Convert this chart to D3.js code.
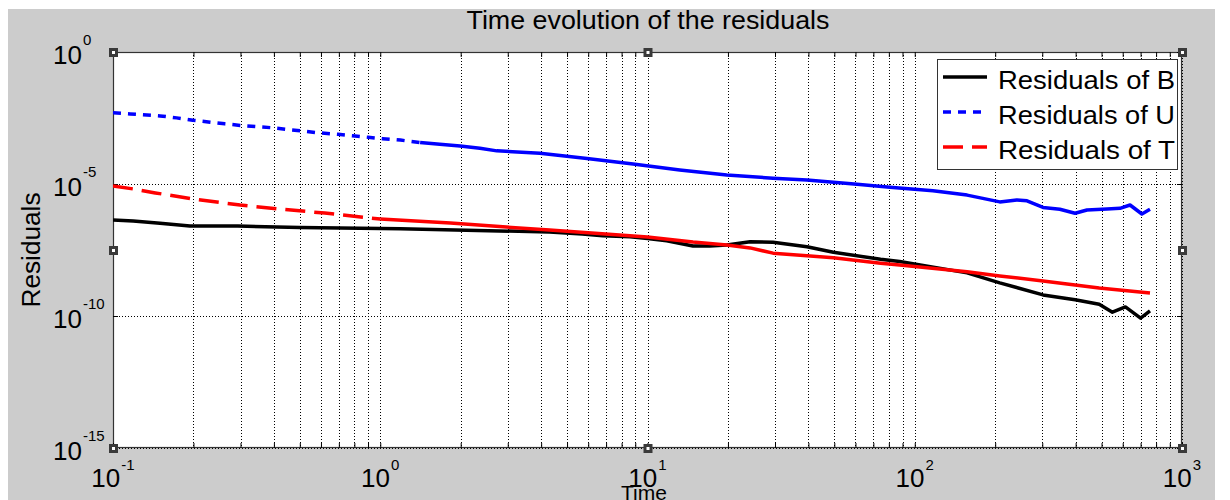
<!DOCTYPE html>
<html>
<head>
<meta charset="utf-8">
<script src="https://cdn.jsdelivr.net/npm/d3@7"></script>
<style>
  html, body { margin: 0; padding: 0; background: #ffffff; }
  svg { display: block; }
  text { font-family: "Liberation Sans", Arial, Helvetica, sans-serif; fill: #000; }
</style>
</head>
<body>
<svg id="chart" width="1230" height="500"></svg>
<script>
// ---------------- data ----------------
const titleText = "Time evolution of the residuals";
const xLabelText = "Time";
const yLabelText = "Residuals";

const xMajorExps = [-1, 0, 1, 2, 3];
const yMajorExps = [0, -5, -10, -15];

const seriesNames = ["Residuals of B", "Residuals of U", "Residuals of T"];

const timeB = [0.1, 0.119, 0.150, 0.194, 0.293, 0.50, 1.19, 4.3, 5.7, 6.8, 8.6, 10, 11.8, 14.8, 17.1, 19.8, 24.2, 29.5, 39.5, 49.6, 74.5, 87.8, 157, 208, 302, 398, 490, 549, 614, 700, 759];
const resB  = [4.3e-7, 4.0e-7, 3.25e-7, 2.57e-7, 2.57e-7, 2.25e-7, 2.0e-7, 1.52e-7, 1.28e-7, 1.1e-7, 1.0e-7, 8.7e-8, 7.1e-8, 4.5e-8, 4.5e-8, 4.9e-8, 6.5e-8, 6.2e-8, 4.2e-8, 2.6e-8, 1.4e-8, 1.15e-8, 4.3e-9, 1.8e-9, 6.3e-10, 4.1e-10, 2.8e-10, 1.4e-10, 2.2e-10, 8.3e-11, 1.55e-10];

const timeU = [0.1, 0.116, 0.150, 0.173, 0.199, 0.231, 0.262, 0.299, 0.346, 0.394, 0.459, 0.509, 0.585, 0.695, 0.805, 0.90, 1.02, 1.19, 1.41, 1.67, 1.99, 2.36, 2.73, 3.96, 5.94, 8.83, 13.2, 19.8, 29.5, 39.5, 60.8, 80.8, 117, 157, 208, 241, 263, 302, 349, 398, 441, 524, 586, 639, 708, 759];
const resU  = [5.0e-3, 4.5e-3, 3.8e-3, 3.2e-3, 2.6e-3, 2.2e-3, 1.9e-3, 1.66e-3, 1.48e-3, 1.35e-3, 1.14e-3, 1.02e-3, 8.7e-4, 7.6e-4, 6.6e-4, 5.9e-4, 5.2e-4, 4.6e-4, 3.7e-4, 3.2e-4, 2.75e-4, 2.25e-4, 1.8e-4, 1.45e-4, 9.3e-5, 5.7e-5, 3.4e-5, 2.2e-5, 1.65e-5, 1.42e-5, 9.8e-6, 7.5e-6, 5.6e-6, 3.8e-6, 2.1e-6, 2.5e-6, 2.3e-6, 1.3e-6, 1.1e-6, 7.8e-7, 1.04e-6, 1.12e-6, 1.2e-6, 1.6e-6, 7.3e-7, 1.1e-6];

const timeT = [0.1, 0.119, 0.144, 0.199, 0.299, 0.43, 0.62, 1.0, 1.83, 4.3, 10, 14.8, 19.8, 24.2, 29.5, 39.5, 49.6, 74.5, 87.8, 157, 208, 302, 398, 490, 759];
const resT  = [8.4e-6, 6.5e-6, 4.6e-6, 2.7e-6, 1.6e-6, 1.1e-6, 7.9e-7, 4.7e-7, 3.3e-7, 1.8e-7, 9.8e-8, 6.3e-8, 4.9e-8, 3.8e-8, 2.4e-8, 1.9e-8, 1.6e-8, 1.0e-8, 8.5e-9, 4.7e-9, 3.3e-9, 2.1e-9, 1.5e-9, 1.15e-9, 7.4e-10];

// ---------------- layout / style ----------------
const W = 1230, H = 500;
const plot = { left: 113, top: 52, right: 1182, bottom: 448 };
const series = [
  { name: seriesNames[0], t: timeB, r: resB, color: "#000000", dash: null,   denseFrom: null },
  { name: seriesNames[1], t: timeU, r: resU, color: "#0000ff", dash: "8,7",  denseFrom: 1.41 },
  { name: seriesNames[2], t: timeT, r: resT, color: "#ff0000", dash: "20,9", denseFrom: 1.0 }
];
const lineW = 3.5;

const svg = d3.select("#chart");

// figure background
svg.append("rect").attr("x", 0).attr("y", 0).attr("width", W).attr("height", H).attr("fill", "#ffffff");
svg.append("rect").attr("x", 8).attr("y", 9).attr("width", 1207).attr("height", H - 9).attr("fill", "#cccccc");

const x = d3.scaleLog().domain([0.1, 1000]).range([plot.left, plot.right]);
const y = d3.scaleLog().domain([1e-15, 1]).range([plot.bottom, plot.top]);

// axes area
svg.append("rect")
  .attr("x", plot.left).attr("y", plot.top)
  .attr("width", plot.right - plot.left).attr("height", plot.bottom - plot.top)
  .attr("fill", "#ffffff");

// x ticks: majors and minors (2..9 per decade)
const xAllTicks = [];
xMajorExps.forEach((e, i) => {
  const base = Math.pow(10, e);
  xAllTicks.push(base);
  if (i < xMajorExps.length - 1) for (let k = 2; k <= 9; k++) xAllTicks.push(k * base);
});
const yTicks = yMajorExps.map(e => Math.pow(10, e));

const grid = svg.append("g").attr("shape-rendering", "crispEdges");
grid.selectAll("line.vx").data(xAllTicks).enter().append("line")
  .attr("x1", d => Math.round(x(d)) + 0.5).attr("x2", d => Math.round(x(d)) + 0.5)
  .attr("y1", plot.top).attr("y2", plot.bottom)
  .attr("stroke", "#000").attr("stroke-width", 1).attr("stroke-dasharray", "1,2");
grid.selectAll("line.hy").data(yTicks).enter().append("line")
  .attr("y1", d => Math.round(y(d)) + 0.5).attr("y2", d => Math.round(y(d)) + 0.5)
  .attr("x1", plot.left).attr("x2", plot.right)
  .attr("stroke", "#000").attr("stroke-width", 1).attr("stroke-dasharray", "1,2");

// axis box
svg.append("rect")
  .attr("x", plot.left + 0.5).attr("y", plot.top + 0.5)
  .attr("width", plot.right - plot.left - 1).attr("height", plot.bottom - plot.top - 1)
  .attr("fill", "none").attr("stroke", "#333").attr("stroke-width", 1.2);

// tick marks (inward), using d3 axes
const tickLen = 5;
const fmtNone = () => "";
svg.append("g").attr("transform", `translate(0,${plot.bottom})`)
  .call(d3.axisTop(x).tickValues(xAllTicks).tickSize(tickLen).tickFormat(fmtNone))
  .call(g => g.select(".domain").remove());
svg.append("g").attr("transform", `translate(0,${plot.top})`)
  .call(d3.axisBottom(x).tickValues(xAllTicks).tickSize(tickLen).tickFormat(fmtNone))
  .call(g => g.select(".domain").remove());
svg.append("g").attr("transform", `translate(${plot.left},0)`)
  .call(d3.axisRight(y).tickValues(yTicks).tickSize(tickLen).tickFormat(fmtNone))
  .call(g => g.select(".domain").remove());
svg.append("g").attr("transform", `translate(${plot.right},0)`)
  .call(d3.axisLeft(y).tickValues(yTicks).tickSize(tickLen).tickFormat(fmtNone))
  .call(g => g.select(".domain").remove());

// tick labels: y
const yl = svg.append("g");
yMajorExps.forEach(e => {
  const yy = y(Math.pow(10, e));
  const t = yl.append("text").attr("x", 53).attr("y", yy + 11.5).attr("font-size", 26);
  t.append("tspan").text("10");
  t.append("tspan").attr("dy", -19).attr("dx", 1).attr("font-size", 15).text(String(e));
});
// tick labels: x
xMajorExps.forEach(e => {
  const xx = x(Math.pow(10, e));
  const t = svg.append("text").attr("x", xx).attr("y", 487).attr("font-size", 26).attr("text-anchor", "middle");
  t.append("tspan").text("10");
  t.append("tspan").attr("dy", -17).attr("dx", 1).attr("font-size", 15).text(String(e));
});

// series lines
const clip = svg.append("clipPath").attr("id", "plotclip").append("rect")
  .attr("x", plot.left).attr("y", plot.top)
  .attr("width", plot.right - plot.left).attr("height", plot.bottom - plot.top);
const lineGen = d3.line().x(d => x(d[0])).y(d => y(d[1]));
const lines = svg.append("g").attr("clip-path", "url(#plotclip)");
series.forEach(s => {
  const pts = s.t.map((t, i) => [t, s.r[i]]);
  if (s.dash && s.denseFrom != null) {
    const sparse = pts.filter(p => p[0] <= s.denseFrom);
    const dense = pts.filter(p => p[0] >= s.denseFrom);
    lines.append("path").datum(sparse).attr("d", lineGen)
      .attr("fill", "none").attr("stroke", s.color).attr("stroke-width", lineW)
      .attr("stroke-dasharray", s.dash);
    lines.append("path").datum(dense).attr("d", lineGen)
      .attr("fill", "none").attr("stroke", s.color).attr("stroke-width", lineW)
      .attr("stroke-linejoin", "round");
  } else {
    lines.append("path").datum(pts).attr("d", lineGen)
      .attr("fill", "none").attr("stroke", s.color).attr("stroke-width", lineW)
      .attr("stroke-linejoin", "round");
  }
});

// selection handles (corners & mid-edges)
const hx = [plot.left, (plot.left + plot.right) / 2, plot.right];
const hy = [plot.top, (plot.top + plot.bottom) / 2, plot.bottom];
const handles = [];
hx.forEach((a, i) => hy.forEach((b, j) => { if (!(i === 1 && j === 1)) handles.push([a, b]); }));
const hg = svg.append("g");
hg.selectAll("rect.h").data(handles).enter().append("rect")
  .attr("x", d => d[0] - 4).attr("y", d => d[1] - 4).attr("width", 9).attr("height", 9)
  .attr("fill", "#3a3a3a");
hg.selectAll("rect.hi").data(handles).enter().append("rect")
  .attr("x", d => d[0] - 1).attr("y", d => d[1] - 1).attr("width", 3).attr("height", 3)
  .attr("fill", "#ffffff");

// legend
const lg = svg.append("g");
lg.append("rect").attr("x", 937.5).attr("y", 59.5).attr("width", 240).attr("height", 110)
  .attr("fill", "#ffffff").attr("stroke", "#333").attr("stroke-width", 1);
series.forEach((s, i) => {
  const ly = 77 + i * 35;
  lg.append("line").attr("x1", 943).attr("x2", 987).attr("y1", ly).attr("y2", ly)
    .attr("stroke", s.color).attr("stroke-width", lineW)
    .attr("stroke-dasharray", s.dash ? s.dash : null);
  lg.append("text").attr("x", 998).attr("y", ly + 11.5).attr("font-size", 26)
    .attr("textLength", 177).attr("lengthAdjust", "spacingAndGlyphs").text(s.name);
});

// title and axis labels
svg.append("text").attr("x", 648).attr("y", 29).attr("text-anchor", "middle")
  .attr("font-size", 25).attr("textLength", 363).attr("lengthAdjust", "spacingAndGlyphs").text(titleText);
svg.append("text").attr("x", 644).attr("y", 500).attr("text-anchor", "middle")
  .attr("font-size", 21).text(xLabelText);
svg.append("text").attr("transform", "translate(40,250) rotate(-90)").attr("text-anchor", "middle")
  .attr("font-size", 25).attr("textLength", 115).attr("lengthAdjust", "spacingAndGlyphs").text(yLabelText);
</script>
</body>
</html>
